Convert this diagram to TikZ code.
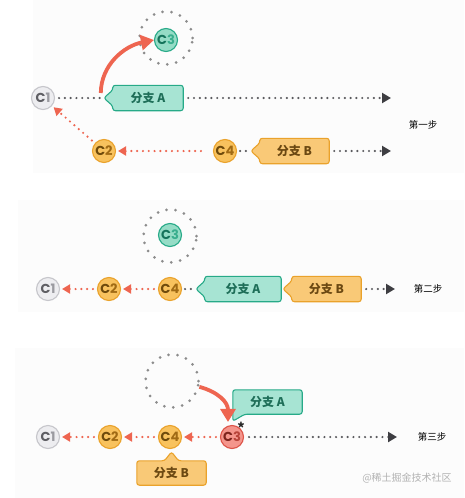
\documentclass[tikz,border=0pt]{standalone}
\usepackage{fontspec}
\usepackage{tikz}
\usetikzlibrary{arrows.meta, positioning, calc, backgrounds}
\setmainfont{Noto Sans CJK SC}
\newfontfamily\commitfont{Poppins}

\definecolor{panelgray}{HTML}{FCFCFC}
\definecolor{oldfill}{HTML}{EDEDF0}
\definecolor{oldline}{HTML}{C6C6CB}
\definecolor{oldC}{HTML}{5E5E63}
\definecolor{oldN}{HTML}{9A9AA0}
\definecolor{tealfill}{HTML}{95DCC6}
\definecolor{tealline}{HTML}{27AA88}
\definecolor{tealC}{HTML}{15735B}
\definecolor{tealN}{HTML}{3AAE8E}
\definecolor{tagteal}{HTML}{A7E4D3}
\definecolor{tagtealtext}{HTML}{1E6E58}
\definecolor{orangefill}{HTML}{F8C25E}
\definecolor{orangeline}{HTML}{EAA22B}
\definecolor{orangeC}{HTML}{6E4A0C}
\definecolor{orangeN}{HTML}{A06A14}
\definecolor{tagorange}{HTML}{F9C977}
\definecolor{tagorangetext}{HTML}{6B4812}
\definecolor{redfill}{HTML}{F4958C}
\definecolor{redline}{HTML}{DD5448}
\definecolor{redC}{HTML}{7E231C}
\definecolor{redN}{HTML}{B8443A}
\definecolor{arrowred}{HTML}{EE6550}
\definecolor{dotgray}{HTML}{5A5A5E}
\definecolor{arrowgray}{HTML}{3E3E42}

\newcommand{\commitname}[3]{{\color{#1}C}{\color{#2}#3}}

\tikzset{
  commit/.style={circle, minimum size=23pt, inner sep=0pt, line width=1.1pt,
    font=\commitfont\bfseries\fontsize{13}{13}\selectfont},
  oldcommit/.style={commit, draw=oldline, fill=oldfill},
  tealcommit/.style={commit, draw=tealline, fill=tealfill},
  orangecommit/.style={commit, draw=orangeline, fill=orangefill},
  redcommit/.style={commit, draw=redline, fill=redfill},
  tagtext/.style={minimum height=25pt, inner sep=0pt, font=\bfseries\fontsize{12}{12}\selectfont},
  tealtag/.style={fill=tagteal, draw=tealline, line width=1.1pt, rounded corners=2.5pt, line join=round},
  orangetag/.style={fill=tagorange, draw=orangeline, line width=1.1pt, rounded corners=2.5pt, line join=round},
  dotring/.style={circle, minimum size=53pt, inner sep=0pt, draw=black!45, line width=3pt,
    dash pattern=on 0pt off 9pt, line cap=round},
  dotlink/.style={draw=dotgray, line width=2.4pt, line cap=round, dash pattern=on 0pt off 5.8pt},
  headlink/.style={dotlink, -{Triangle[length=9pt,width=10pt,color=arrowgray]}, shorten <=5pt},
  parentlink/.style={dotlink, draw=arrowred, -{Triangle[length=8pt,width=9pt]}, shorten <=4pt, shorten >=2pt},
  movearrow/.style={draw=arrowred, line width=3.8pt, -{Triangle[length=13pt,width=15pt]}},
  stepnote/.style={font=\fontsize{9.5}{10}\selectfont},
  watermark/.style={text=black!30, font=\fontsize{10}{10}\selectfont},
}

\begin{document}
\begin{tikzpicture}[x=1pt, y=-1pt]
  \useasboundingbox (0,0) rectangle (464,498);

  % Pannelli
  \begin{scope}[on background layer]
    \fill[panelgray] (33,0) rectangle (464,173);
    \fill[panelgray] (18,200) rectangle (464,312);
    \fill[panelgray] (15,348) rectangle (464,498);
  \end{scope}

  % Primo passo
  \node[dotring] (r1) at (166,38) {};
  \node[tealcommit] (c3a) at (166,40) {\commitname{tealC}{tealN}{3}};
  \node[oldcommit] (c1a) at (43,98) {\commitname{oldC}{oldN}{1}};
  \node[tagtext, text=tagtealtext, minimum width=70pt] (ta1) at (148,98) {分支 A};
  \node[orangecommit] (c2a) at (104,151) {\commitname{orangeC}{orangeN}{2}};
  \node[orangecommit] (c4a) at (225,151) {\commitname{orangeC}{orangeN}{4}};
  \node[tagtext, text=tagorangetext, minimum width=69pt] (tb1) at (294.5,151) {分支 B};
  \begin{scope}[on background layer]
    \draw[tealtag] (ta1.east) -- (ta1.north east) -- (ta1.north west) -- ([yshift=8pt]ta1.west)
      -- ([xshift=-9pt]ta1.west) -- ([yshift=-8pt]ta1.west) -- (ta1.south west) -- (ta1.south east) -- cycle;
    \draw[orangetag] (tb1.east) -- (tb1.north east) -- (tb1.north west) -- ([yshift=8pt]tb1.west)
      -- ([xshift=-9pt]tb1.west) -- ([yshift=-8pt]tb1.west) -- (tb1.south west) -- (tb1.south east) -- cycle;
  \end{scope}
  \coordinate (pa1) at ([xshift=-9pt]ta1.west);
  \coordinate (pb1) at ([xshift=-9pt]tb1.west);
  \coordinate (ea1) at (391,98);
  \coordinate (eb1) at (391,151);
  \draw[dotlink, shorten <=4pt] (c1a) -- (pa1);
  \draw[headlink] (ta1.east) -- (ea1);
  \draw[dotlink, shorten <=3pt] (c4a) -- (pb1);
  \draw[headlink] (tb1.east) -- (eb1);
  \draw[parentlink, shorten <=12pt] (c4a) -- (c2a);
  \draw[parentlink] (c2a) -- (c1a);
  \draw[movearrow] ([xshift=-3pt,yshift=5pt]pa1) .. controls (101,65) and (124,46) .. (c3a.west);
  \node[stepnote] (s1) at (423,125) {第一步};

  % Secondo passo
  \node[dotring] (r2) at (170,236) {};
  \node[tealcommit] (c3b) at (170,235) {\commitname{tealC}{tealN}{3}};
  \node[oldcommit] (c1b) at (48,289) {\commitname{oldC}{oldN}{1}};
  \node[orangecommit] (c2b) at (109,289) {\commitname{orangeC}{orangeN}{2}};
  \node[orangecommit] (c4b) at (170,289) {\commitname{orangeC}{orangeN}{4}};
  \node[tagtext, text=tagtealtext, minimum width=76pt] (ta2) at (243,289) {分支 A};
  \node[tagtext, text=tagorangetext, minimum width=69pt] (tb2) at (326.5,289) {分支 B};
  \begin{scope}[on background layer]
    \draw[tealtag] (ta2.east) -- (ta2.north east) -- (ta2.north west) -- ([yshift=8pt]ta2.west)
      -- ([xshift=-9pt]ta2.west) -- ([yshift=-8pt]ta2.west) -- (ta2.south west) -- (ta2.south east) -- cycle;
    \draw[orangetag] (tb2.east) -- (tb2.north east) -- (tb2.north west) -- ([yshift=8pt]tb2.west)
      -- ([xshift=-9pt]tb2.west) -- ([yshift=-8pt]tb2.west) -- (tb2.south west) -- (tb2.south east) -- cycle;
  \end{scope}
  \coordinate (pa2) at ([xshift=-9pt]ta2.west);
  \coordinate (eb2) at (395,289);
  \draw[dotlink, shorten <=3pt] (c4b) -- (pa2);
  \draw[headlink] (tb2.east) -- (eb2);
  \draw[parentlink] (c4b) -- (c2b);
  \draw[parentlink] (c2b) -- (c1b);
  \node[stepnote] (s2) at (428,289) {第二步};

  % Terzo passo
  \node[dotring] (r3) at (172,381) {};
  \node[oldcommit] (c1c) at (48,437) {\commitname{oldC}{oldN}{1}};
  \node[orangecommit] (c2c) at (110,437) {\commitname{orangeC}{orangeN}{2}};
  \node[orangecommit] (c4c) at (170,437) {\commitname{orangeC}{orangeN}{4}};
  \node[redcommit] (c3c) at (232,437) {\commitname{redC}{redN}{3}};
  \node[tagtext, text=tagtealtext, minimum width=69pt, minimum height=24pt] (ta3) at (267.5,402) {分支 A};
  \node[tagtext, text=tagorangetext, minimum width=69pt, minimum height=24pt] (tb3) at (171.5,473) {分支 B};
  \begin{scope}[on background layer]
    \draw[tealtag] (ta3.east) -- (ta3.north east) -- (ta3.north west) -- (ta3.south west)
      -- ([yshift=-7pt]ta3.south west) -- ([xshift=12pt]ta3.south west) -- (ta3.south east) -- cycle;
    \draw[orangetag] (tb3.east) -- (tb3.north east) -- ([xshift=7pt]tb3.north) -- ([yshift=9pt]tb3.north)
      -- ([xshift=-7pt]tb3.north) -- (tb3.north west) -- (tb3.south west) -- (tb3.south east) -- cycle;
  \end{scope}
  \coordinate (ec3) at (397,437);
  \draw[headlink] (c3c) -- (ec3);
  \draw[parentlink] (c3c) -- (c4c);
  \draw[parentlink] (c4c) -- (c2c);
  \draw[parentlink] (c2c) -- (c1c);
  \draw[movearrow, shorten >=3pt] (r3.-12) .. controls (218,392) and (228,402) .. ([xshift=-4pt]c3c.north);
  \node[font=\bfseries\fontsize{14}{14}\selectfont, text=black!85, inner sep=0pt] (spark) at (241,428) {*};
  \node[stepnote] (s3) at (432,437) {第三步};
  \node[watermark] (wm) at (407,478) {@稀土掘金技术社区};
\end{tikzpicture}
\end{document}
